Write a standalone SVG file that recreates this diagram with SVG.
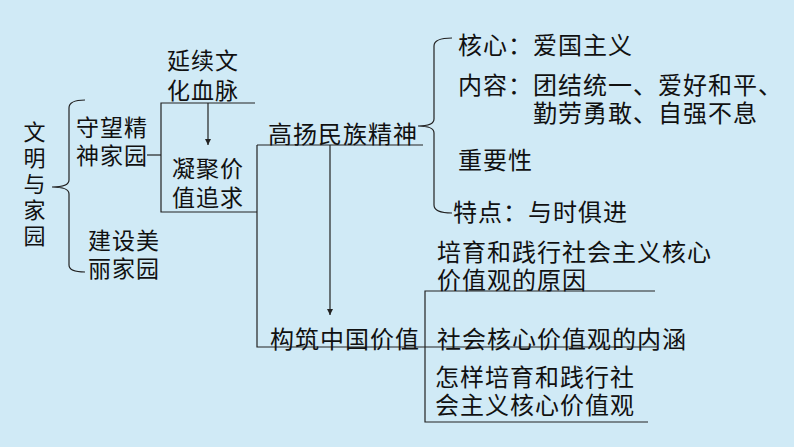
<svg xmlns="http://www.w3.org/2000/svg" width="794" height="447" viewBox="0 0 794 447">
<defs>
<style>
.t{font-family:"Noto Sans CJK SC","Noto Sans",sans-serif;font-size:24px;fill:#111;letter-spacing:1px}
.s{font-size:23px}
.v{font-size:22px}
.ln{fill:none;stroke:#222;stroke-width:1.2}
</style>
<marker id="ah" viewBox="0 0 10 10" refX="10" refY="5" markerWidth="5" markerHeight="5" orient="auto"><path d="M0,0 L10,5 L0,10 z" fill="#222"/></marker>
</defs>
<rect width="794" height="447" fill="#d0eaf6"/>
<g id="connectors">
<path class="ln" d="M85,100 Q69,100 69,108 L69,180 Q69,187 52,187 Q69,187 69,194 L69,265 Q69,272 85,272"/>
<path class="ln" d="M147,155 H161"/>
<path class="ln" d="M255,103 H161 V212 H257"/>
<path class="ln" d="M208,103 V145" marker-end="url(#ah)"/>
<path class="ln" d="M257,145 H423 M257,145 V347 H657"/>
<path class="ln" d="M452,38 Q434,38 434,46 L434,119 Q434,126 418,126 Q434,126 434,133 L434,205 Q434,213 452,213"/>
<path class="ln" d="M330,145 V315" marker-end="url(#ah)"/>
<path class="ln" d="M655,291 H425 V422 H648"/>
</g>
<g id="n-root"><text class="t v" text-anchor="middle"><tspan x="35" y="140">文</tspan><tspan x="35" y="166">明</tspan><tspan x="35" y="192">与</tspan><tspan x="35" y="218">家</tspan><tspan x="35" y="244">园</tspan></text></g>
<g id="n-shouwang"><text class="t s" x="76" y="136">守望精</text><text class="t s" x="76" y="164">神家园</text></g>
<g id="n-jianshe"><text class="t s" x="88" y="249">建设美</text><text class="t s" x="88" y="277">丽家园</text></g>
<g id="n-yanxu"><text class="t s" x="167" y="69">延续文</text><text class="t s" x="167" y="99">化血脉</text></g>
<g id="n-ningju"><text class="t s" x="172" y="177">凝聚价</text><text class="t s" x="172" y="206">值追求</text></g>
<g id="n-gaoyang"><text class="t" x="268" y="143">高扬民族精神</text></g>
<g id="n-hexin"><text class="t" x="458" y="54">核心：爱国主义</text></g>
<g id="n-neirong"><text class="t" x="458" y="94">内容：团结统一、爱好和平、</text><text class="t" x="533" y="122">勤劳勇敢、自强不息</text></g>
<g id="n-zhongyao"><text class="t" x="458" y="169">重要性</text></g>
<g id="n-tedian"><text class="t" x="453" y="221">特点：与时俱进</text></g>
<g id="n-goujian"><text class="t" x="270" y="348">构筑中国价值</text></g>
<g id="n-yuanyin"><text class="t" x="437" y="261">培育和践行社会主义核心</text><text class="t" x="437" y="289">价值观的原因</text></g>
<g id="n-neihan"><text class="t" x="437" y="348">社会核心价值观的内涵</text></g>
<g id="n-zenyang"><text class="t" x="435" y="386">怎样培育和践行社</text><text class="t" x="435" y="414">会主义核心价值观</text></g>
</svg>
